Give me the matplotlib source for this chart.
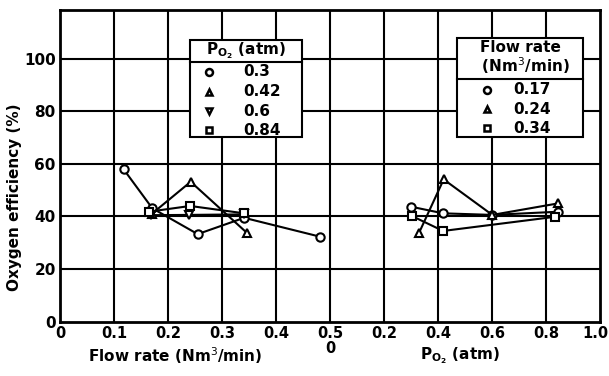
import matplotlib
matplotlib.use("Agg")
import matplotlib.pyplot as plt
from matplotlib.patches import Rectangle
from matplotlib.lines import Line2D
import matplotlib.transforms as mtransforms

# ---- data: left panel (x = flow rate, series by PO2) ----
po2_labels = ["0.3", "0.42", "0.6", "0.84"]
po2_markers = ["o", "^", "v", "s"]
flow_03 = [0.118, 0.171, 0.255, 0.341, 0.482]
eff_03 = [57.9, 43.1, 33.3, 39.5, 32.3]
flow_042 = [0.170, 0.242, 0.346]
eff_042 = [41.0, 53.2, 33.8]
flow_06 = [0.168, 0.239, 0.340]
eff_06 = [40.5, 40.6, 40.8]
flow_084 = [0.164, 0.241, 0.341]
eff_084 = [41.8, 44.0, 41.2]

# ---- data: right panel (x = PO2, series by flow rate) ----
flow_labels = ["0.17", "0.24", "0.34"]
flow_markers = ["o", "^", "s"]
po2_017 = [0.301, 0.419, 0.601, 0.843]
eff_017 = [43.7, 41.2, 40.6, 41.8]
po2_024 = [0.329, 0.421, 0.601, 0.846]
eff_024 = [33.6, 54.1, 40.6, 45.0]
po2_034 = [0.303, 0.419, 0.835]
eff_034 = [40.2, 34.5, 39.9]

xtick_pos = [0, 0.1, 0.2, 0.3, 0.4, 0.5, 0.6, 0.7, 0.8, 0.9, 1.0]
xtick_labels = ["0", "0.1", "0.2", "0.3", "0.4", "0.5\n0", "0.2", "0.4", "0.6", "0.8", "1.0"]
ytick_pos = [0, 20, 40, 60, 80, 100]

plt.rcParams['font.family'] = ['DejaVu Sans']
W, H = 609, 376
fig = plt.figure(figsize=(W / 100, H / 100), dpi=100)
L, R, T, B = 60, 600, 10, 321.7
ax = fig.add_axes([L / W, 1 - B / H, (R - L) / W, (B - T) / H])
ax.set_xlim(0, 1.0)
ax.set_ylim(0, 118.5)

for s in ax.spines.values():
    s.set_linewidth(2)
for x in xtick_pos[1:-1]:
    ax.axvline(x, color='black', lw=1.5, zorder=1)
for y in ytick_pos[1:]:
    ax.axhline(y, color='black', lw=1.5, zorder=1)

ax.set_xticks(xtick_pos)
ax.set_xticklabels(xtick_labels, fontsize=10.5, fontweight='bold', linespacing=1.0)
ax.set_yticks(ytick_pos)
ax.set_yticklabels([str(v) for v in ytick_pos], fontsize=11, fontweight='bold')
ax.tick_params(length=0, pad=3)
last = ax.get_xticklabels()[-1]
last.set_transform(last.get_transform() + mtransforms.ScaledTranslation(-5 / 100, 0, fig.dpi_scale_trans))

mk = dict(color='black', lw=1.5, markersize=6, markerfacecolor='white',
          markeredgecolor='black', markeredgewidth=1.5, zorder=3)
left_series = [(flow_03, eff_03), (flow_042, eff_042), (flow_06, eff_06), (flow_084, eff_084)]
for (xs, ys), m in zip(left_series, po2_markers):
    ax.plot(xs, ys, marker=m, **mk)

right_series = [(po2_017, eff_017), (po2_024, eff_024), (po2_034, eff_034)]
for (ps, ys), m in zip(right_series, flow_markers):
    ax.plot([0.5 + p / 2 for p in ps], ys, marker=m, **mk)

ax.set_ylabel("Oxygen efficiency (%)", fontsize=11, fontweight='bold')
ax.yaxis.set_label_coords(-0.07, 0.40)
fig.text(175 / W, 1 - 356 / H, "Flow rate (Nm$^3$/min)", fontsize=11, fontweight='bold',
         ha='center', va='center')
fig.text(460 / W, 1 - 356 / H, r"P$_{\mathbf{O_2}}$ (atm)", fontsize=11, fontweight='bold',
         ha='center', va='center')

def px(x, y):
    return (x / W, 1 - y / H)

def box(x0, y0, x1, y1, ysep):
    fig.patches.append(Rectangle(px(x0, y1), (x1 - x0) / W, (y1 - y0) / H,
                                 transform=fig.transFigure, facecolor='white',
                                 edgecolor='black', lw=1.5, zorder=5))
    fig.lines.append(Line2D([x0 / W, x1 / W], [1 - ysep / H] * 2,
                            transform=fig.transFigure, color='black', lw=1.5, zorder=6))

# left legend
box(190, 40, 302, 137, 62)
fig.text(246 / W, 1 - 51 / H, r"P$_{\mathbf{O_2}}$ (atm)", fontsize=11, fontweight='bold',
         ha='center', va='center', zorder=7)
for i, (lab, m) in enumerate(zip(po2_labels, po2_markers)):
    yy = 1 - (72 + i * 19.5) / H
    fig.lines.append(Line2D([209 / W], [yy], transform=fig.transFigure, marker=m,
                            markersize=5, markerfacecolor='white', markeredgecolor='black',
                            markeredgewidth=1.8, lw=0, zorder=7))
    fig.text(243 / W, yy, lab, fontsize=11, fontweight='bold', ha='left', va='center', zorder=7)

# right legend
box(457, 38, 583, 137, 79)
fig.text(520 / W, 1 - 58 / H, "Flow rate\n  (Nm$^3$/min)", fontsize=11, fontweight='bold',
         ha='center', va='center', linespacing=1.0, zorder=7)
for i, (lab, m) in enumerate(zip(flow_labels, flow_markers)):
    yy = 1 - (90 + i * 19) / H
    fig.lines.append(Line2D([487 / W], [yy], transform=fig.transFigure, marker=m,
                            markersize=5, markerfacecolor='white', markeredgecolor='black',
                            markeredgewidth=1.8, lw=0, zorder=7))
    fig.text(513 / W, yy, lab, fontsize=11, fontweight='bold', ha='left', va='center', zorder=7)

fig.savefig("out.png", dpi=100)
